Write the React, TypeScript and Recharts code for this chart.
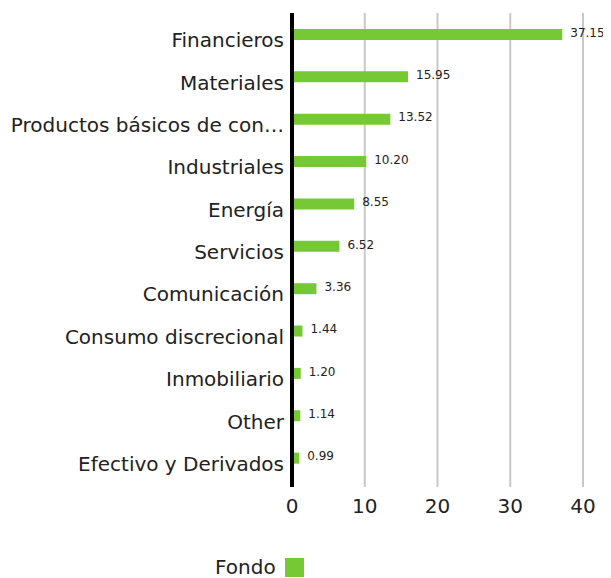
import React from "react";
import {
  BarChart,
  Bar,
  XAxis,
  YAxis,
  CartesianGrid,
  LabelList,
} from "recharts";

const sectors = [
  "Financieros",
  "Materiales",
  "Productos básicos de consumo",
  "Industriales",
  "Energía",
  "Servicios",
  "Comunicación",
  "Consumo discrecional",
  "Inmobiliario",
  "Other",
  "Efectivo y Derivados",
];

const fondo = [37.15, 15.95, 13.52, 10.2, 8.55, 6.52, 3.36, 1.44, 1.2, 1.14, 0.99];

const xTicks = [0, 10, 20, 30, 40];

const GREEN = "#76c934";
const FONT = "'DejaVu Sans', sans-serif";

const data = sectors.map((name, i) => ({ name, fondo: fondo[i] }));

const shorten = (s: string) => (s.length > 24 ? s.slice(0, 24) + "…" : s);

export default function App() {
  return (
    <div style={{ position: "relative", marginLeft: -8, marginTop: -8, width: 611, height: 578 }}>
      <BarChart
        width={611}
        height={578}
        data={data}
        layout="vertical"
        margin={{ top: 13, right: 28, bottom: 51, left: 0 }}
      >
        <CartesianGrid horizontal={false} stroke="#c8c8c8" strokeWidth={2} />
        <XAxis
          type="number"
          domain={[0, 40]}
          ticks={xTicks}
          axisLine={false}
          tickLine={false}
          tick={{ fill: "#222", fontSize: 20, fontFamily: FONT }}
          tickMargin={6}
          height={40}
        />
        <YAxis
          type="category"
          dataKey="name"
          width={292}
          axisLine={{ stroke: "#000", strokeWidth: 4 }}
          tickLine={false}
          tickFormatter={shorten}
          tick={{ fill: "#222", fontSize: 20, fontFamily: FONT, dy: 6 }}
          tickMargin={2}
          padding={{ bottom: 8 }}
          interval={0}
        />
        <Bar dataKey="fondo" fill={GREEN} barSize={11} isAnimationActive={false}>
          <LabelList
            dataKey="fondo"
            position="right"
            offset={8}
            dy={-2}
            formatter={(v: number) => v.toFixed(2)}
            style={{ fill: "#222", fontSize: 12, fontFamily: FONT }}
          />
        </Bar>
      </BarChart>
      <div
        style={{
          position: "absolute",
          left: 215,
          top: 557,
          display: "flex",
          alignItems: "center",
          fontFamily: FONT,
          fontSize: 20,
          color: "#222",
          lineHeight: "20px",
        }}
      >
        <span>Fondo</span>
        <span
          style={{
            display: "inline-block",
            width: 19,
            height: 19,
            background: GREEN,
            marginLeft: 9,
          }}
        />
      </div>
    </div>
  );
}
